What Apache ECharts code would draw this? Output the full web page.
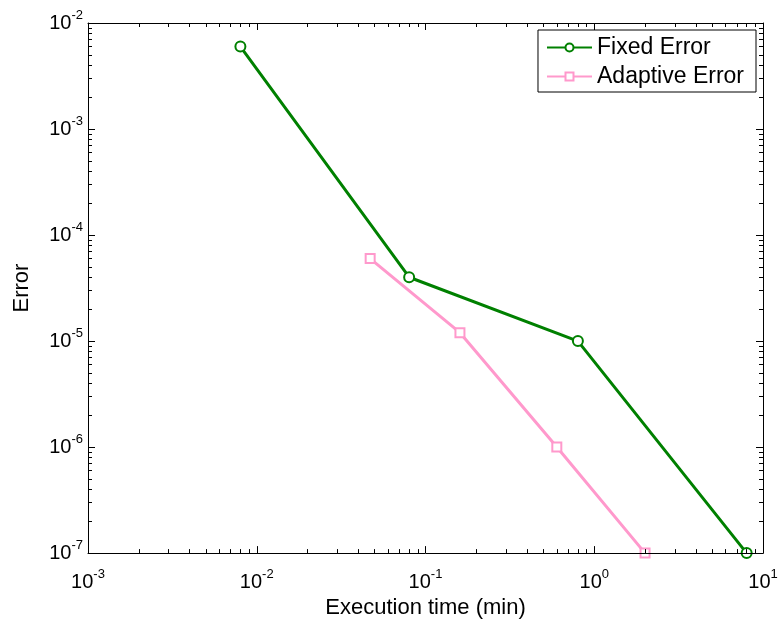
<!DOCTYPE html>
<html>
<head>
<meta charset="utf-8">
<script src="https://cdn.jsdelivr.net/npm/echarts@6/dist/echarts.min.js"></script>
<style>html,body{margin:0;padding:0;background:#fff}#c{width:783px;height:624px}</style>
</head>
<body>
<div id="c"></div>
<script>
const xMin = 1e-3, xMax = 1e1;
const yMin = 1e-7, yMax = 1e-2;
const xTickExps = [-3, -2, -1, 0, 1];
const yTickExps = [-7, -6, -5, -4, -3, -2];
const seriesNames = ['Fixed Error', 'Adaptive Error'];
const fixedTime = [0.008, 0.08, 0.8, 8];
const fixedError = [0.006, 4e-5, 1e-5, 1e-7];
const adaptiveTime = [0.047, 0.16, 0.6, 2];
const adaptiveError = [6e-5, 1.2e-5, 1e-6, 1e-7];
const xTitle = 'Execution time (min)';
const yTitle = 'Error';

const FONT = 'Liberation Sans, Arial, sans-serif';
function majors(exps){ return exps.map(e => Math.pow(10, e)); }
function minors(exps){
  const out = [];
  for (let i = 0; i < exps.length - 1; i++) {
    for (let k = 2; k <= 9; k++) out.push(+(k * Math.pow(10, exps[i])).toPrecision(6));
  }
  return out;
}
function fmt(v){ const e = Math.round(Math.log10(v)); return '{b|10}{s|' + e + '}'; }
const rich = {
  b: {fontSize: 20, fontFamily: FONT, color: '#000'},
  s: {fontSize: 13, fontFamily: FONT, color: '#000', padding: [0, 0, 15, 0]}
};
function axis(dim, pos, exps, min, max, showLabel, minor) {
  const vals = minor ? minors(exps) : majors(exps);
  return {
    type: 'log', logBase: 10, min: min, max: max, position: pos,
    splitLine: {show: false},
    axisLine: {show: !minor, lineStyle: {color: '#000', width: 1}},
    axisTick: {show: true, inside: true, length: minor ? 4 : 7, customValues: vals,
               lineStyle: {color: '#000', width: 1}},
    axisLabel: showLabel ? {show: true, customValues: vals, formatter: fmt, rich: rich,
               margin: dim === 'x' ? 15 : 5} : {show: false},
    z: 5
  };
}
const xAxes = [
  Object.assign(axis('x', 'bottom', xTickExps, xMin, xMax, true, false), {
    name: xTitle, nameLocation: 'middle', nameGap: 37,
    nameTextStyle: {fontSize: 22, fontFamily: FONT, color: '#000'}
  }),
  axis('x', 'top', xTickExps, xMin, xMax, false, false),
  axis('x', 'bottom', xTickExps, xMin, xMax, false, true),
  axis('x', 'top', xTickExps, xMin, xMax, false, true)
];
const yAxes = [
  Object.assign(axis('y', 'left', yTickExps, yMin, yMax, true, false), {
    name: yTitle, nameLocation: 'middle', nameGap: 55, nameRotate: 90,
    nameTextStyle: {fontSize: 22, fontFamily: FONT, color: '#000'}
  }),
  axis('y', 'right', yTickExps, yMin, yMax, false, false),
  axis('y', 'left', yTickExps, yMin, yMax, false, true),
  axis('y', 'right', yTickExps, yMin, yMax, false, true)
];

const chart = echarts.init(document.getElementById('c'), null, {renderer: 'canvas'});
chart.setOption({
  animation: false,
  backgroundColor: '#fff',
  grid: {left: 88, top: 23, right: 20, bottom: 69, containLabel: false},
  xAxis: xAxes,
  yAxis: yAxes,
  legend: {
    data: seriesNames,
    orient: 'vertical', right: 27, top: 30,
    backgroundColor: '#fff', borderColor: '#000', borderWidth: 1,
    padding: [6, 12, 4, 8], itemGap: 6, itemWidth: 45, itemHeight: 10,
    textStyle: {fontSize: 23, fontFamily: FONT, color: '#000'}
  },
  series: [
    {
      name: seriesNames[0], type: 'line',
      data: fixedTime.map((t, i) => [t, fixedError[i]]),
      symbol: 'emptyCircle', symbolSize: 10,
      lineStyle: {color: '#008000', width: 3},
      itemStyle: {color: '#008000', borderWidth: 2.5},
      z: 3
    },
    {
      name: seriesNames[1], type: 'line',
      data: adaptiveTime.map((t, i) => [t, adaptiveError[i]]),
      symbol: 'emptyRect', symbolSize: 9,
      lineStyle: {color: '#ff99cc', width: 3},
      itemStyle: {color: '#ff99cc', borderWidth: 2.5},
      z: 3
    }
  ]
});
</script>
</body>
</html>
